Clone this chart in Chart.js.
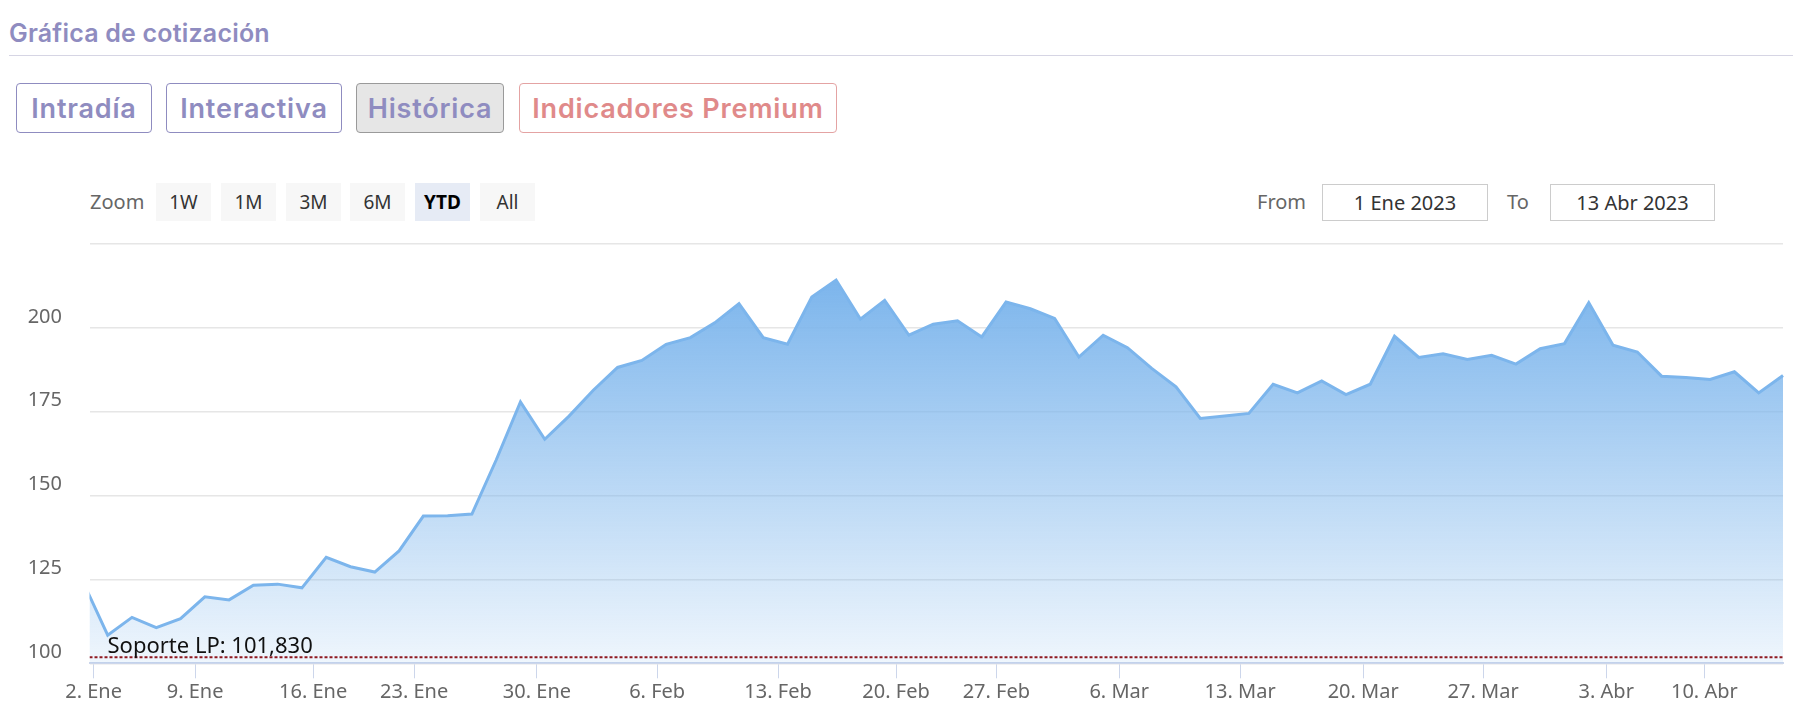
<!DOCTYPE html>
<html lang="es">
<head>
<meta charset="utf-8">
<title>Gráfica de cotización</title>
<script src="https://cdn.jsdelivr.net/npm/chart.js@4.4.0/dist/chart.umd.min.js"></script>
<style>
  body {
    margin: 0;
    width: 1793px;
    height: 701px;
    overflow: hidden;
    position: relative;
    background: #fff;
    font-family: "Noto Sans", sans-serif;
  }
  .abs { position: absolute; box-sizing: border-box; }
  .titulo {
    left: 9px; top: 16px; height: 34px; line-height: 34px;
    font-family: Inter, sans-serif; font-weight: 600; font-size: 25px;
    color: #8f8cc0; letter-spacing: 0.2px;
  }
  .separador { left: 9px; right: 0; top: 55px; height: 1px; background: #d6d5e4; }
  .tab {
    top: 83px; height: 50px;
    display: flex; align-items: center; justify-content: center;
    border: 1px solid #8f8cc0; border-radius: 4px; background: #fff;
    font-family: Inter, sans-serif; font-weight: 600; font-size: 27px;
    color: #8f8cc0; letter-spacing: 0.8px;
  }
  .tab.activa { background: #e6e6e6; border-color: #9a9a9a; }
  .tab.premium { border-color: #e4a3a3; color: #e08a8a; }
  .lbl { height: 38px; line-height: 38px; font-size: 20px; color: #666; top: 183px; }
  .zbtn {
    top: 183px; width: 55px; height: 38px;
    display: flex; align-items: center; justify-content: center;
    background: #f7f7f7; font-size: 19px; color: #333;
  }
  .zbtn.sel { background: #e6ebf5; color: #000; font-weight: 700; }
  .fecha {
    top: 184px; height: 37px;
    display: flex; align-items: center; justify-content: center;
    border: 1px solid #cccccc; font-size: 20px; color: #333;
  }
  #grafico { position: absolute; left: 0; top: 234px; }
</style>
</head>
<body>
  <div class="abs titulo">Gráfica de cotización</div>
  <div class="abs separador"></div>

  <div class="abs tab" style="left:16px;width:136px;">Intradía</div>
  <div class="abs tab" style="left:166px;width:176px;">Interactiva</div>
  <div class="abs tab activa" style="left:356px;width:148px;">Histórica</div>
  <div class="abs tab premium" style="left:519px;width:318px;">Indicadores Premium</div>

  <div class="abs lbl" style="left:90px;">Zoom</div>
  <div class="abs zbtn" style="left:156px;">1W</div>
  <div class="abs zbtn" style="left:221px;">1M</div>
  <div class="abs zbtn" style="left:286px;">3M</div>
  <div class="abs zbtn" style="left:350px;">6M</div>
  <div class="abs zbtn sel" style="left:415px;">YTD</div>
  <div class="abs zbtn" style="left:480px;">All</div>

  <div class="abs lbl" style="left:1257px;">From</div>
  <div class="abs fecha" style="left:1322px;width:166px;">1 Ene 2023</div>
  <div class="abs lbl" style="left:1507px;">To</div>
  <div class="abs fecha" style="left:1550px;width:165px;">13 Abr 2023</div>

  <canvas id="grafico" width="1793" height="467"></canvas>

<script>
// 📊 Cierres diarios (sesiones bursátiles). El primero es el 30 Dic 2022, fuera del rango YTD
const precioCierre = [
  124.0,
  108.4, 113.7, 110.6, 113.3, 119.8, 118.9, 123.3, 123.6, 122.5, 131.6,
  128.8, 127.2, 133.5, 143.9, 144.0, 144.5, 160.6, 177.9, 166.8, 173.7,
  181.4, 188.2, 190.3, 195.1, 197.1, 201.5, 207.2, 197.1, 195.1, 209.2,
  214.2, 202.6, 208.2, 197.8, 201.1, 202.1, 197.3, 207.7, 205.7, 202.8,
  191.3, 197.8, 194.1, 187.9, 182.4, 173.0, 173.7, 174.5, 183.2, 180.6,
  184.2, 180.1, 183.2, 197.5, 191.2, 192.3, 190.6, 191.8, 189.2, 193.8,
  195.3, 207.5, 194.8, 192.8, 185.6, 185.2, 184.6, 186.9, 180.6, 185.8
];

// 🗓️ Etiquetas semanales del eje X y su posición en sesiones (medianoche del día)
const etiquetasX = [
  "2. Ene", "9. Ene", "16. Ene", "23. Ene", "30. Ene", "6. Feb", "13. Feb",
  "20. Feb", "27. Feb", "6. Mar", "13. Mar", "20. Mar", "27. Mar", "3. Abr", "10. Abr"
];
const posicionesX = [
  -0.58, 3.6, 8.46, 12.62, 17.68, 22.63, 27.61,
  32.47, 36.6, 41.66, 46.64, 51.71, 56.65, 61.72, 65.76
];

// 📏 Eje Y
const ticksY = [100, 125, 150, 175, 200, 225];

// 🔴 Soporte de largo plazo
const soporteLP = 101.83;
const soporteTexto = "Soporte LP: 101,830";

// Rango visible (YTD) en sesiones
const inicioX = -0.75;
const finX = 69;

const puntos = precioCierre.map((v, i) => ({ x: i - 1, y: v }));

// Texto del soporte encima de la línea discontinua
const etiquetaSoporte = {
  id: "etiquetaSoporte",
  afterDatasetsDraw(chart) {
    const { ctx, chartArea, scales } = chart;
    const y = scales.y.getPixelForValue(soporteLP);
    ctx.save();
    ctx.font = "22px 'Noto Sans', sans-serif";
    ctx.fillStyle = "#111";
    ctx.textBaseline = "alphabetic";
    ctx.textAlign = "left";
    ctx.fillText(soporteTexto, chartArea.left + 18, y - 4);
    ctx.restore();
  }
};

Chart.defaults.font.family = "'Noto Sans', sans-serif";
Chart.defaults.font.size = 20;
Chart.defaults.color = "#666";

new Chart(document.getElementById("grafico"), {
  type: "line",
  data: {
    datasets: [
      {
        label: "Soporte LP",
        data: [{ x: inicioX, y: soporteLP }, { x: finX, y: soporteLP }],
        borderColor: "#8f1820",
        borderWidth: 2,
        borderDash: [3, 2],
        pointRadius: 0,
        fill: false,
        clip: 0
      },
      {
        label: "Cotización",
        data: puntos,
        borderColor: "#7cb5ec",
        borderWidth: 3,
        pointRadius: 0,
        tension: 0,
        fill: "start",
        clip: { left: 0, top: 5, right: 2, bottom: 0 },
        backgroundColor(context) {
          const { chart } = context;
          const { ctx, chartArea, scales } = chart;
          if (!chartArea) return "rgba(124,181,236,0.5)";
          const top = scales.y.getPixelForValue(Math.max(...precioCierre));
          const g = ctx.createLinearGradient(0, top, 0, chartArea.bottom);
          g.addColorStop(0, "rgba(124,181,236,1)");
          g.addColorStop(1, "rgba(124,181,236,0.12)");
          return g;
        }
      }
    ]
  },
  options: {
    responsive: false,
    animation: false,
    layout: { padding: { top: 10, right: 10, bottom: 0, left: 0 } },
    plugins: {
      legend: { display: false },
      tooltip: { enabled: false }
    },
    scales: {
      x: {
        type: "linear",
        min: inicioX,
        max: finX,
        afterBuildTicks(scale) {
          scale.ticks = posicionesX.map((p) => ({ value: p }));
        },
        afterFit(scale) {
          scale.height = 37.7;
          scale.paddingLeft = 0;
          scale.paddingRight = 0;
        },
        ticks: {
          autoSkip: false,
          maxRotation: 0,
          padding: 2,
          color: "#666",
          callback: (value, index) => etiquetasX[index]
        },
        grid: {
          drawOnChartArea: false,
          drawTicks: true,
          tickLength: 15,
          color: "#ccd6eb",
          lineWidth: 1
        },
        border: { display: true, color: "#ccd6eb", width: 2 }
      },
      y: {
        min: 100,
        max: 225,
        afterBuildTicks(scale) {
          scale.ticks = ticksY.map((v) => ({ value: v }));
        },
        afterFit(scale) {
          scale.width = 89.5;
          scale.paddingTop = 0;
          scale.paddingBottom = 0;
        },
        ticks: {
          padding: 27.5,
          labelOffset: -11,
          color: "#666",
          callback: (value) => (value === 225 ? "" : String(value))
        },
        grid: {
          drawTicks: false,
          color: "#e6e6e6",
          lineWidth: 1.5
        },
        border: { display: false }
      }
    }
  },
  plugins: [etiquetaSoporte]
});
</script>
</body>
</html>
